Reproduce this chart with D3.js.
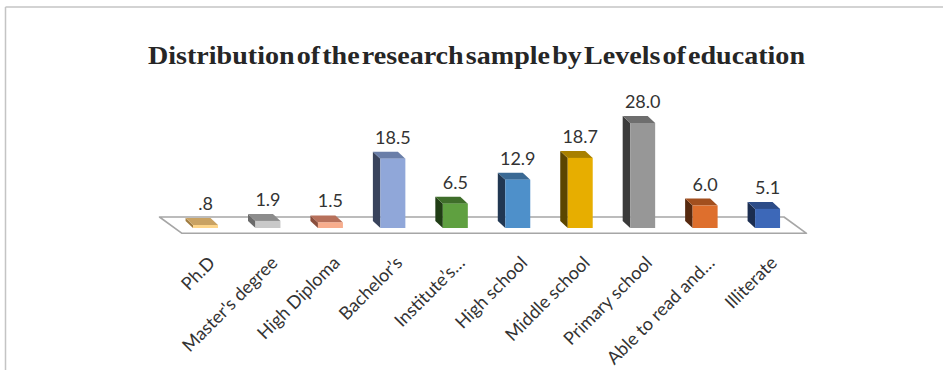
<!DOCTYPE html>
<html>
<head>
<meta charset="utf-8">
<script src="https://cdn.jsdelivr.net/npm/d3@7"></script>
<style>
  html, body { margin: 0; padding: 0; background: #fff; }
  svg { display: block; }
</style>
</head>
<body>
<div id="chart"></div>
<script>
// Education levels and their share of the sample (%)
const categories = [
  "Ph.D", "Master's degree", "High Diploma", "Bachelor\u2019s", "Institute\u2019s\u2026",
  "High school", "Middle school", "Primary school", "Able to read and\u2026", "Illiterate"
];
const values = [0.8, 1.9, 1.5, 18.5, 6.5, 12.9, 18.7, 28.0, 6.0, 5.1];

// Face shading for each 3D column: front, top, left side
const frontColors = ["#FDD58A", "#C9C9C9", "#F7AD8D", "#90A7D9", "#5FA040", "#4E90CA", "#E7AE00", "#979797", "#DE6F2D", "#3D68B8"];
const topColors   = ["#C9A262", "#8C8C8C", "#B7705A", "#6A7EA8", "#3F6E2A", "#3A6994", "#A88000", "#6E6E6E", "#A24F1E", "#2C4C88"];
const sideColors  = ["#A07C40", "#6A6A6A", "#8A4E3C", "#39435C", "#203D15", "#213752", "#5C4600", "#3B3B3B", "#56290F", "#1B2D50"];

const titleText = "Distribution of the research sample by Levels of education";

const W = 943, H = 370;
const svg = d3.select("#chart").append("svg").attr("width", W).attr("height", H);

// chart area frame (top and left edges visible)
svg.append("line").attr("x1", 5.5).attr("y1", 7).attr("x2", W).attr("y2", 7)
  .attr("stroke", "#c4c4c4").attr("stroke-width", 1.5);
svg.append("line").attr("x1", 5.5).attr("y1", 7).attr("x2", 5.5).attr("y2", H)
  .attr("stroke", "#c4c4c4").attr("stroke-width", 1.5);

// title
svg.append("text")
  .attr("x", 148).attr("y", 64)
  .attr("textLength", 657).attr("lengthAdjust", "spacingAndGlyphs")
  .style("font-family", "'Liberation Serif', 'DejaVu Serif', serif")
  .style("font-weight", "bold").style("font-size", "26px")
  .style("word-spacing", "-4.5px")
  .attr("fill", "#262626")
  .text(titleText);

// floor geometry
const floorFrontY = 233.3;
const floorDepth = { dx: -22.5, dy: -16.3 };
const x = d3.scaleBand().domain(categories).range([182, 806.5]).paddingInner(0.6).paddingOuter(0.3);
const baseY = 228;                  // front bottom edge of the columns
const y = d3.scaleLinear().domain([0, 30]).range([baseY, baseY - 112.5]);
const colShift = -7.7;              // columns sit part-way back on the floor
const depth = { dx: -7.5, dy: -7 }; // column depth

// floor
const [r0, r1] = x.range();
svg.append("path")
  .attr("d", `M${r0},${floorFrontY} L${r1},${floorFrontY} L${r1 + floorDepth.dx},${floorFrontY + floorDepth.dy} L${r0 + floorDepth.dx},${floorFrontY + floorDepth.dy} Z`)
  .attr("fill", "#fff").attr("stroke", "#a6a6a6").attr("stroke-width", 1.6)
  .attr("stroke-linejoin", "round");

const data = categories.map((c, i) => ({ c, v: values[i], i }));

const cols = svg.append("g").selectAll("g").data(data).join("g");

// left side face
cols.append("path")
  .attr("d", d => {
    const x0 = x(d.c) + colShift, yt = y(d.v);
    return `M${x0},${baseY} L${x0},${yt} L${x0 + depth.dx},${yt + depth.dy} L${x0 + depth.dx},${baseY + depth.dy} Z`;
  })
  .attr("fill", d => sideColors[d.i]);

// top face
cols.append("path")
  .attr("d", d => {
    const x0 = x(d.c) + colShift, x1 = x0 + x.bandwidth(), yt = y(d.v);
    return `M${x0},${yt} L${x1},${yt} L${x1 + depth.dx},${yt + depth.dy} L${x0 + depth.dx},${yt + depth.dy} Z`;
  })
  .attr("fill", d => topColors[d.i]);

// front face
cols.append("rect")
  .attr("x", d => x(d.c) + colShift)
  .attr("y", d => y(d.v))
  .attr("width", x.bandwidth())
  .attr("height", d => baseY - y(d.v))
  .attr("fill", d => frontColors[d.i]);

// value labels (leading zero dropped, as in ".8")
const fmt = v => d3.format(".1f")(v).replace(/^0\./, ".");
svg.append("g").selectAll("text").data(data).join("text")
  .attr("x", d => x(d.c) + colShift + x.bandwidth() / 2)
  .attr("y", d => y(d.v) + depth.dy - 8)
  .attr("text-anchor", "middle")
  .style("font-family", "Lato, 'Open Sans', sans-serif")
  .style("font-size", "18px")
  .attr("fill", "#333333")
  .text(d => fmt(d.v));

// category axis with rotated labels
const axis = svg.append("g")
  .attr("transform", `translate(0,264)`)
  .call(d3.axisBottom(x).tickSize(0).tickPadding(0));
axis.select(".domain").remove();
axis.selectAll(".tick text")
  .attr("x", 0).attr("y", 0).attr("dy", 0)
  .attr("text-anchor", "end")
  .attr("transform", "translate(3,0) rotate(-45)")
  .style("font-family", "Lato, 'Open Sans', sans-serif")
  .style("font-size", "18px")
  .attr("fill", "#333333");
</script>
</body>
</html>
